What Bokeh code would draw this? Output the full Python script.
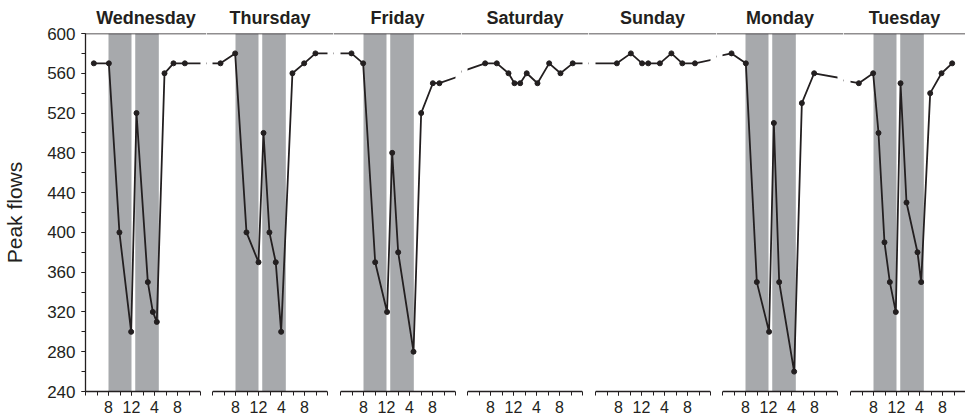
from bokeh.plotting import figure
from bokeh.layouts import row
from bokeh.models import FixedTicker, BoxAnnotation, Span, ColumnDataSource, Range1d
from bokeh.embed import file_html
from bokeh.resources import INLINE

# ---------------- data ----------------
days = ["Wednesday", "Thursday", "Friday", "Saturday", "Sunday", "Monday", "Tuesday"]
is_workday = [True, True, True, False, False, True, True]

wed_hours = [5.45, 8.06, 9.9, 11.94, 12.87, 14.84, 15.71, 16.4, 17.74, 19.3, 21.28]
wed_flows = [570, 570, 400, 300, 520, 350, 320, 310, 560, 570, 570]

thu_hours = [5.39, 7.94, 9.91, 12.0, 12.87, 13.9, 15.0, 15.94, 17.9, 19.94, 21.9]
thu_flows = [570, 580, 400, 370, 500, 400, 370, 300, 560, 570, 580]

fri_hours = [5.91, 7.94, 10.03, 12.1, 12.99, 14.03, 16.7, 18.03, 20.06, 21.2]
fri_flows = [580, 570, 370, 320, 480, 380, 280, 520, 550, 550]

sat_hours = [7.07, 9.1, 11.13, 12.17, 13.16, 14.3, 16.17, 18.2, 20.17, 22.3]
sat_flows = [570, 570, 560, 550, 550, 560, 550, 570, 560, 570]

sun_hours = [7.72, 10.15, 12.1, 13.17, 15.2, 17.2, 19.1, 21.3]
sun_flows = [570, 580, 570, 570, 570, 580, 570, 570]

mon_hours = [5.57, 8.06, 9.97, 12.1, 12.93, 13.86, 16.46, 17.8, 19.94]
mon_flows = [580, 570, 350, 300, 510, 350, 260, 530, 560]

tue_hours = [5.45, 7.94, 8.87, 9.91, 10.84, 11.88, 12.7, 13.74, 15.65, 16.29, 17.86, 19.83, 21.68]
tue_flows = [550, 560, 500, 390, 350, 320, 550, 430, 380, 350, 540, 560, 570]

hours_by_day = [wed_hours, thu_hours, fri_hours, sat_hours, sun_hours, mon_hours, tue_hours]
flows_by_day = [wed_flows, thu_flows, fri_flows, sat_flows, sun_flows, mon_flows, tue_flows]

shade_periods = [(8.0, 12.0), (12.65, 16.75)]   # shaded hours on working days
hour_ticks = [8, 12, 16, 20]
hour_tick_labels = ["8", "12", "4", "8"]
minor_hours = [4, 6, 8, 10, 12, 14, 16, 18, 20, 22, 24]
flow_ticks = [240, 280, 320, 360, 400, 440, 480, 520, 560, 600]
flow_minor = [240, 260, 280, 300, 320, 340, 360, 380, 400, 420, 440, 460, 480,
              500, 520, 540, 560, 580, 600]
day_start, day_end = 4, 24
flow_min, flow_max = 240, 600

# ---------------- styling ----------------
INK = "#231f20"
BAND = "#a7a9ac"
FONT = "Liberation Sans"
PX_PER_HOUR = 5.75
FRAME_W = 115
FRAME_H = 358
GAPS = [12, 13, 12, 13, 12, 13]
LEFT_W = 83

# continuous time series (hours since Wednesday 0:00)
t, fl = [], []
for i, (hs, fs) in enumerate(zip(hours_by_day, flows_by_day)):
    t += [24 * i + h for h in hs]
    fl += fs
src = ColumnDataSource(dict(t=t, flow=fl))

figs = []
n = len(days)
for i, day in enumerate(days):
    lp = 0 if i == 0 else GAPS[i - 1] - GAPS[i - 1] // 2
    rp = GAPS[i] // 2 if i < n - 1 else 0
    d0 = 24 * i
    x0 = d0 + day_start - lp / PX_PER_HOUR
    x1 = d0 + day_end + rp / PX_PER_HOUR
    p = figure(frame_width=FRAME_W + lp + rp, frame_height=FRAME_H,
               x_range=Range1d(x0, x1), y_range=Range1d(flow_min, flow_max),
               output_backend="svg", toolbar_location=None, title=day,
               y_axis_location="left" if i == 0 else None,
               min_border_left=LEFT_W if i == 0 else 0, min_border_right=0,
               min_border_top=0, min_border_bottom=0)
    p.outline_line_color = None
    p.background_fill_color = "white"
    p.border_fill_color = "white"
    p.xgrid.visible = False
    p.ygrid.visible = False

    p.title.text_font = FONT
    p.title.text_font_size = "18px"
    p.title.text_font_style = "bold"
    p.title.text_color = INK
    p.title.align = "center"
    p.title.standoff = 11

    if is_workday[i]:
        for a, b in shade_periods:
            p.add_layout(BoxAnnotation(left=d0 + a, right=d0 + b, fill_color=BAND,
                                       fill_alpha=1, line_color=None, level="underlay"))

    p.line("t", "flow", source=src, line_color=INK, line_width=1.8)
    p.scatter("t", "flow", source=src, size=5, color=INK)

    # hide the series in the gaps between days
    if lp > 0:
        p.add_layout(BoxAnnotation(right=d0 + day_start, fill_color="white", fill_alpha=1,
                                   line_color=None))
    if rp > 0:
        p.add_layout(BoxAnnotation(left=d0 + day_end, fill_color="white", fill_alpha=1,
                                   line_color=None))
    p.add_layout(Span(location=flow_max, dimension="width", line_color=INK,
                      line_width=1.6, level="overlay"))

    xa = p.xaxis[0]
    xa.bounds = (d0 + day_start, d0 + day_end)
    xa.ticker = FixedTicker(ticks=[d0 + h for h in hour_ticks],
                            minor_ticks=[d0 + h for h in minor_hours])
    xa.major_label_overrides = {d0 + h: lab for h, lab in zip(hour_ticks, hour_tick_labels)}
    xa.axis_line_color = INK
    xa.axis_line_width = 1.3
    xa.major_tick_line_color = INK
    xa.minor_tick_line_color = INK
    xa.major_tick_out = 4
    xa.major_tick_in = 0
    xa.minor_tick_out = 4
    xa.minor_tick_in = 0
    xa.major_label_text_font = FONT
    xa.major_label_text_font_size = "16px"
    xa.major_label_text_color = INK
    xa.major_label_standoff = 5

    if i == 0:
        ya = p.yaxis[0]
        ya.ticker = FixedTicker(ticks=flow_ticks, minor_ticks=flow_minor)
        ya.axis_line_color = INK
        ya.axis_line_width = 1.3
        ya.major_tick_line_color = INK
        ya.minor_tick_line_color = INK
        ya.major_tick_out = 4
        ya.major_tick_in = 0
        ya.minor_tick_out = 4
        ya.minor_tick_in = 0
        ya.major_label_text_font = FONT
        ya.major_label_text_font_size = "17px"
        ya.major_label_text_color = INK
        ya.major_label_standoff = 6
        ya.axis_label = "Peak flows"
        ya.axis_label_text_font = FONT
        ya.axis_label_text_font_size = "21px"
        ya.axis_label_text_font_style = "normal"
        ya.axis_label_text_color = INK
        ya.axis_label_standoff = 18
    figs.append(p)

layout = row(*figs, spacing=0)
open("out.html", "w").write(file_html(layout, INLINE))
